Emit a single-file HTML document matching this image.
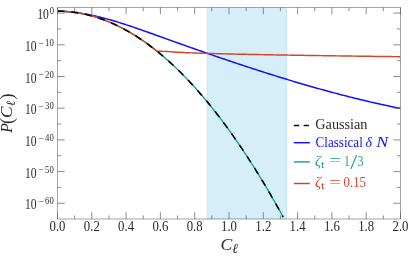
<!DOCTYPE html>
<html><head><meta charset="utf-8"><title>plot</title>
<style>html,body{margin:0;padding:0;background:#fff;}svg{display:block;will-change:transform;}</style>
</head><body>
<svg width="415" height="263" viewBox="0 0 415 263">
<rect width="415" height="263" fill="#fff"/>
<rect x="207.3" y="7.5" width="79.3" height="211.0" fill="#d5eefa" stroke="#bfe3f4" stroke-width="0.8"/>
<path d="M57.50,11.16 L59.22,11.20 L60.95,11.26 L62.67,11.33 L64.39,11.43 L66.12,11.54 L67.84,11.67 L69.57,11.83 L71.29,12.00 L73.01,12.18 L74.74,12.39 L76.46,12.61 L78.18,12.85 L79.91,13.10 L81.63,13.38 L83.35,13.66 L85.08,13.96 L86.80,14.28 L88.53,14.61 L90.25,14.96 L91.97,15.31 L93.70,15.69 L95.42,16.07 L97.14,16.47 L98.87,16.88 L100.59,17.30 L102.31,17.74 L104.04,18.18 L105.76,18.64 L107.48,19.11 L109.21,19.58 L110.93,20.07 L112.66,20.57 L114.38,21.07 L116.10,21.59 L117.83,22.11 L119.55,22.64 L121.27,23.18 L123.00,23.73 L124.72,24.28 L126.44,24.84 L128.17,25.41 L129.89,25.98 L131.62,26.56 L133.34,27.14 L135.06,27.73 L136.79,28.32 L138.51,28.92 L140.23,29.52 L141.96,30.13 L143.68,30.74 L145.40,31.35 L147.13,31.96 L148.85,32.58 L150.58,33.19 L152.30,33.81 L154.02,34.43 L155.75,35.05 L157.47,35.67 L159.19,36.29 L160.92,36.91 L162.64,37.53 L164.36,38.15 L166.09,38.77 L167.81,39.39 L169.54,40.00 L171.26,40.62 L172.98,41.23 L174.71,41.85 L176.43,42.46 L178.15,43.08 L179.88,43.69 L181.60,44.30 L183.32,44.91 L185.05,45.52 L186.77,46.13 L188.49,46.74 L190.22,47.35 L191.94,47.96 L193.67,48.56 L195.39,49.17 L197.11,49.77 L198.84,50.37 L200.56,50.98 L202.28,51.58 L204.01,52.18 L205.73,52.78 L207.45,53.37 L209.18,53.97 L210.90,54.57 L212.63,55.16 L214.35,55.75 L216.07,56.35 L217.80,56.94 L219.52,57.53 L221.24,58.11 L222.97,58.70 L224.69,59.29 L226.41,59.87 L228.14,60.45 L229.86,61.04 L231.59,61.62 L233.31,62.19 L235.03,62.77 L236.76,63.35 L238.48,63.92 L240.20,64.50 L241.93,65.07 L243.65,65.64 L245.37,66.21 L247.10,66.77 L248.82,67.34 L250.55,67.90 L252.27,68.46 L253.99,69.02 L255.72,69.58 L257.44,70.14 L259.16,70.69 L260.89,71.25 L262.61,71.80 L264.33,72.35 L266.06,72.90 L267.78,73.44 L269.51,73.99 L271.23,74.53 L272.95,75.07 L274.68,75.61 L276.40,76.15 L278.12,76.68 L279.85,77.22 L281.57,77.75 L283.29,78.28 L285.02,78.80 L286.74,79.33 L288.46,79.85 L290.19,80.37 L291.91,80.89 L293.64,81.41 L295.36,81.92 L297.08,82.43 L298.81,82.94 L300.53,83.45 L302.25,83.96 L303.98,84.46 L305.70,84.96 L307.42,85.46 L309.15,85.96 L310.87,86.45 L312.60,86.94 L314.32,87.43 L316.04,87.92 L317.77,88.41 L319.49,88.89 L321.21,89.37 L322.94,89.84 L324.66,90.32 L326.38,90.79 L328.11,91.26 L329.83,91.73 L331.56,92.19 L333.28,92.65 L335.00,93.11 L336.73,93.57 L338.45,94.02 L340.17,94.48 L341.90,94.92 L343.62,95.37 L345.34,95.81 L347.07,96.25 L348.79,96.69 L350.52,97.13 L352.24,97.56 L353.96,97.99 L355.69,98.41 L357.41,98.84 L359.13,99.26 L360.86,99.67 L362.58,100.09 L364.30,100.50 L366.03,100.91 L367.75,101.31 L369.47,101.72 L371.20,102.12 L372.92,102.51 L374.65,102.91 L376.37,103.30 L378.09,103.68 L379.82,104.07 L381.54,104.45 L383.26,104.82 L384.99,105.20 L386.71,105.57 L388.43,105.94 L390.16,106.30 L391.88,106.66 L393.61,107.02 L395.33,107.37 L397.05,107.73 L398.78,108.07 L400.50,108.42" fill="none" stroke="#1010ff" stroke-width="1.5" stroke-linejoin="round"/>
<path d="M57.50,11.20 L58.54,11.20 L59.57,11.22 L60.61,11.24 L61.64,11.27 L62.68,11.31 L63.71,11.35 L64.75,11.41 L65.78,11.48 L66.82,11.55 L67.85,11.63 L68.89,11.72 L69.92,11.82 L70.96,11.93 L71.99,12.05 L73.03,12.17 L74.06,12.31 L75.10,12.45 L76.13,12.60 L77.17,12.76 L78.20,12.93 L79.24,13.11 L80.27,13.29 L81.31,13.49 L82.34,13.69 L83.38,13.90 L84.41,14.13 L85.45,14.36 L86.48,14.59 L87.52,14.84 L88.55,15.10 L89.59,15.36 L90.63,15.63 L91.66,15.91 L92.70,16.20 L93.73,16.50 L94.77,16.81 L95.80,17.13 L96.84,17.45 L97.87,17.79 L98.91,18.13 L99.94,18.48 L100.98,18.84 L102.01,19.21 L103.05,19.58 L104.08,19.97 L105.12,20.36 L106.15,20.76 L107.19,21.18 L108.22,21.60 L109.26,22.03 L110.29,22.46 L111.33,22.91 L112.36,23.36 L113.40,23.83 L114.43,24.30 L115.47,24.78 L116.50,25.27 L117.54,25.77 L118.57,26.27 L119.61,26.79 L120.64,27.31 L121.68,27.85 L122.72,28.39 L123.75,28.94 L124.79,29.50 L125.82,30.06 L126.86,30.64 L127.89,31.22 L128.93,31.82 L129.96,32.42 L131.00,33.03 L132.03,33.65 L133.07,34.28 L134.10,34.91 L135.14,35.56 L136.17,36.21 L137.21,36.88 L138.24,37.55 L139.28,38.23 L140.31,38.92 L141.35,39.61 L142.38,40.32 L143.42,41.03 L144.45,41.76 L145.49,42.49 L146.52,43.23 L147.56,43.98 L148.59,44.74 L149.63,45.50 L150.66,46.28 L151.70,47.06 L152.73,47.85 L153.77,48.66 L154.81,49.47 L155.84,50.28 L156.88,51.11 L157.91,51.95 L158.95,52.79 L159.98,53.65 L161.02,54.51 L162.05,55.38 L163.09,56.26 L164.12,57.14 L165.16,58.04 L166.19,58.95 L167.23,59.86 L168.26,60.78 L169.30,61.71 L170.33,62.65 L171.37,63.60 L172.40,64.56 L173.44,65.52 L174.47,66.50 L175.51,67.48 L176.54,68.47 L177.58,69.47 L178.61,70.48 L179.65,71.50 L180.68,72.53 L181.72,73.56 L182.75,74.61 L183.79,75.66 L184.82,76.72 L185.86,77.79 L186.89,78.87 L187.93,79.96 L188.97,81.05 L190.00,82.16 L191.04,83.27 L192.07,84.39 L193.11,85.52 L194.14,86.66 L195.18,87.81 L196.21,88.96 L197.25,90.13 L198.28,91.30 L199.32,92.48 L200.35,93.68 L201.39,94.88 L202.42,96.08 L203.46,97.30 L204.49,98.53 L205.53,99.76 L206.56,101.00 L207.60,102.25 L208.63,103.52 L209.67,104.78 L210.70,106.06 L211.74,107.35 L212.77,108.64 L213.81,109.95 L214.84,111.26 L215.88,112.58 L216.91,113.91 L217.95,115.25 L218.98,116.59 L220.02,117.95 L221.06,119.31 L222.09,120.69 L223.13,122.07 L224.16,123.46 L225.20,124.86 L226.23,126.27 L227.27,127.68 L228.30,129.11 L229.34,130.54 L230.37,131.98 L231.41,133.43 L232.44,134.89 L233.48,136.36 L234.51,137.84 L235.55,139.32 L236.58,140.82 L237.62,142.32 L238.65,143.83 L239.69,145.35 L240.72,146.88 L241.76,148.42 L242.79,149.96 L243.83,151.52 L244.86,153.08 L245.90,154.65 L246.93,156.24 L247.97,157.82 L249.00,159.42 L250.04,161.03 L251.07,162.64 L252.11,164.27 L253.15,165.90 L254.18,167.54 L255.22,169.19 L256.25,170.85 L257.29,172.52 L258.32,174.20 L259.36,175.88 L260.39,177.57 L261.43,179.28 L262.46,180.99 L263.50,182.71 L264.53,184.43 L265.57,186.17 L266.60,187.92 L267.64,189.67 L268.67,191.43 L269.71,193.20 L270.74,194.98 L271.78,196.77 L272.81,198.57 L273.85,200.38 L274.88,202.19 L275.92,204.01 L276.95,205.85 L277.99,207.69 L279.02,209.54 L280.06,211.39 L281.09,213.26 L282.13,215.14 L283.16,217.02" fill="none" stroke="#1fa08c" stroke-width="1.4" stroke-linejoin="round"/>
<path d="M57.50,11.20 L58.75,11.20 L60.01,11.22 L61.26,11.26 L62.52,11.30 L63.77,11.36 L65.03,11.43 L66.28,11.51 L67.54,11.61 L68.79,11.71 L70.04,11.83 L71.30,11.97 L72.55,12.11 L73.81,12.27 L75.06,12.44 L76.32,12.63 L77.57,12.83 L78.83,13.04 L80.08,13.26 L81.33,13.49 L82.59,13.74 L83.84,14.00 L85.10,14.28 L86.35,14.56 L87.61,14.86 L88.86,15.17 L90.12,15.50 L91.37,15.83 L92.62,16.18 L93.88,16.55 L95.13,16.92 L96.39,17.31 L97.64,17.71 L98.90,18.12 L100.15,18.55 L101.41,18.99 L102.66,19.44 L103.91,19.90 L105.17,20.38 L106.42,20.87 L107.68,21.37 L108.93,21.89 L110.19,22.42 L111.44,22.96 L112.69,23.51 L113.95,24.08 L115.20,24.66 L116.46,25.25 L117.71,25.85 L118.97,26.47 L120.22,27.10 L121.48,27.74 L122.73,28.40 L123.98,29.06 L125.24,29.74 L126.49,30.44 L127.75,31.14 L129.00,31.86 L130.26,32.59 L131.51,33.34 L132.77,34.09 L134.02,34.86 L135.27,35.65 L136.53,36.44 L137.78,37.25 L139.04,38.07 L140.29,38.90 L141.55,39.75 L142.80,40.61 L144.06,41.48 L145.31,42.36 L146.56,43.26 L147.82,44.17 L149.07,45.09 L150.33,46.03 L151.58,46.97 L152.84,47.93 L154.09,48.91 L155.35,49.89 L156.60,50.89 L159.06,51.24 L161.53,51.32 L163.99,51.37 L166.45,51.46 L168.92,51.61 L171.38,51.79 L173.85,51.98 L176.31,52.17 L178.77,52.33 L181.24,52.46 L183.70,52.58 L186.16,52.69 L188.63,52.79 L191.09,52.89 L193.55,52.98 L196.02,53.07 L198.48,53.15 L200.95,53.23 L203.41,53.30 L205.87,53.38 L208.34,53.45 L210.80,53.52 L213.26,53.58 L215.73,53.64 L218.19,53.71 L220.65,53.77 L223.12,53.83 L225.58,53.88 L228.05,53.94 L230.51,53.99 L232.97,54.05 L235.44,54.10 L237.90,54.16 L240.36,54.21 L242.83,54.26 L245.29,54.31 L247.75,54.36 L250.22,54.41 L252.68,54.46 L255.15,54.51 L257.61,54.56 L260.07,54.61 L262.54,54.65 L265.00,54.70 L267.46,54.74 L269.93,54.79 L272.39,54.83 L274.85,54.88 L277.32,54.92 L279.78,54.96 L282.25,55.01 L284.71,55.05 L287.17,55.09 L289.64,55.13 L292.10,55.17 L294.56,55.21 L297.03,55.25 L299.49,55.29 L301.95,55.33 L304.42,55.37 L306.88,55.41 L309.35,55.45 L311.81,55.49 L314.27,55.53 L316.74,55.56 L319.20,55.60 L321.66,55.64 L324.13,55.68 L326.59,55.71 L329.05,55.75 L331.52,55.79 L333.98,55.83 L336.45,55.86 L338.91,55.90 L341.37,55.93 L343.84,55.97 L346.30,56.00 L348.76,56.04 L351.23,56.07 L353.69,56.11 L356.15,56.14 L358.62,56.18 L361.08,56.21 L363.55,56.24 L366.01,56.28 L368.47,56.31 L370.94,56.34 L373.40,56.37 L375.86,56.41 L378.33,56.44 L380.79,56.47 L383.25,56.50 L385.72,56.53 L388.18,56.56 L390.65,56.59 L393.11,56.62 L395.57,56.64 L398.04,56.67 L400.50,56.70" fill="none" stroke="#d0452a" stroke-width="1.45" stroke-linejoin="round"/>
<path d="M57.50,11.20 L58.54,11.20 L59.57,11.22 L60.61,11.24 L61.64,11.27 L62.68,11.31 L63.71,11.35 L64.75,11.41 L65.78,11.48 L66.82,11.55 L67.85,11.63 L68.89,11.72 L69.92,11.82 L70.96,11.93 L71.99,12.05 L73.03,12.17 L74.06,12.31 L75.10,12.45 L76.13,12.60 L77.17,12.76 L78.20,12.93 L79.24,13.11 L80.27,13.29 L81.31,13.49 L82.34,13.69 L83.38,13.90 L84.41,14.13 L85.45,14.36 L86.48,14.59 L87.52,14.84 L88.55,15.10 L89.59,15.36 L90.63,15.63 L91.66,15.91 L92.70,16.20 L93.73,16.50 L94.77,16.81 L95.80,17.13 L96.84,17.45 L97.87,17.79 L98.91,18.13 L99.94,18.48 L100.98,18.84 L102.01,19.21 L103.05,19.58 L104.08,19.97 L105.12,20.36 L106.15,20.76 L107.19,21.18 L108.22,21.60 L109.26,22.03 L110.29,22.46 L111.33,22.91 L112.36,23.36 L113.40,23.83 L114.43,24.30 L115.47,24.78 L116.50,25.27 L117.54,25.77 L118.57,26.27 L119.61,26.79 L120.64,27.31 L121.68,27.85 L122.72,28.39 L123.75,28.94 L124.79,29.50 L125.82,30.06 L126.86,30.64 L127.89,31.22 L128.93,31.82 L129.96,32.42 L131.00,33.03 L132.03,33.65 L133.07,34.28 L134.10,34.91 L135.14,35.56 L136.17,36.21 L137.21,36.88 L138.24,37.55 L139.28,38.23 L140.31,38.92 L141.35,39.61 L142.38,40.32 L143.42,41.03 L144.45,41.76 L145.49,42.49 L146.52,43.23 L147.56,43.98 L148.59,44.74 L149.63,45.50 L150.66,46.28 L151.70,47.06 L152.73,47.85 L153.77,48.66 L154.81,49.47 L155.84,50.28 L156.88,51.11 L157.91,51.95 L158.95,52.79 L159.98,53.65 L161.02,54.51 L162.05,55.38 L163.09,56.26 L164.12,57.14 L165.16,58.04 L166.19,58.95 L167.23,59.86 L168.26,60.78 L169.30,61.71 L170.33,62.65 L171.37,63.60 L172.40,64.56 L173.44,65.52 L174.47,66.50 L175.51,67.48 L176.54,68.47 L177.58,69.47 L178.61,70.48 L179.65,71.50 L180.68,72.53 L181.72,73.56 L182.75,74.61 L183.79,75.66 L184.82,76.72 L185.86,77.79 L186.89,78.87 L187.93,79.96 L188.97,81.05 L190.00,82.16 L191.04,83.27 L192.07,84.39 L193.11,85.52 L194.14,86.66 L195.18,87.81 L196.21,88.96 L197.25,90.13 L198.28,91.30 L199.32,92.48 L200.35,93.68 L201.39,94.88 L202.42,96.08 L203.46,97.30 L204.49,98.53 L205.53,99.76 L206.56,101.00 L207.60,102.25 L208.63,103.52 L209.67,104.78 L210.70,106.06 L211.74,107.35 L212.77,108.64 L213.81,109.95 L214.84,111.26 L215.88,112.58 L216.91,113.91 L217.95,115.25 L218.98,116.59 L220.02,117.95 L221.06,119.31 L222.09,120.69 L223.13,122.07 L224.16,123.46 L225.20,124.86 L226.23,126.27 L227.27,127.68 L228.30,129.11 L229.34,130.54 L230.37,131.98 L231.41,133.43 L232.44,134.89 L233.48,136.36 L234.51,137.84 L235.55,139.32 L236.58,140.82 L237.62,142.32 L238.65,143.83 L239.69,145.35 L240.72,146.88 L241.76,148.42 L242.79,149.96 L243.83,151.52 L244.86,153.08 L245.90,154.65 L246.93,156.24 L247.97,157.82 L249.00,159.42 L250.04,161.03 L251.07,162.64 L252.11,164.27 L253.15,165.90 L254.18,167.54 L255.22,169.19 L256.25,170.85 L257.29,172.52 L258.32,174.20 L259.36,175.88 L260.39,177.57 L261.43,179.28 L262.46,180.99 L263.50,182.71 L264.53,184.43 L265.57,186.17 L266.60,187.92 L267.64,189.67 L268.67,191.43 L269.71,193.20 L270.74,194.98 L271.78,196.77 L272.81,198.57 L273.85,200.38 L274.88,202.19 L275.92,204.01 L276.95,205.85 L277.99,207.69 L279.02,209.54 L280.06,211.39 L281.09,213.26 L282.13,215.14 L283.16,217.02" fill="none" stroke="#000" stroke-width="1.55" stroke-dasharray="6.9 6.9" stroke-linejoin="round"/>
<path d="M57.1,7.5 H400.9 M57.1,219.0 H400.9 M57.5,7.5 V219.0 M400.5,7.5 V219.0" fill="none" stroke="#949494" stroke-width="0.85"/>
<path d="M57.50,219.0 v-6.8 M57.50,7.5 v6.8 M74.65,219.0 v-3.6 M74.65,7.5 v3.6 M91.80,219.0 v-6.8 M91.80,7.5 v6.8 M108.95,219.0 v-3.6 M108.95,7.5 v3.6 M126.10,219.0 v-6.8 M126.10,7.5 v6.8 M143.25,219.0 v-3.6 M143.25,7.5 v3.6 M160.40,219.0 v-6.8 M160.40,7.5 v6.8 M177.55,219.0 v-3.6 M177.55,7.5 v3.6 M194.70,219.0 v-6.8 M194.70,7.5 v6.8 M211.85,219.0 v-3.6 M211.85,7.5 v3.6 M229.00,219.0 v-6.8 M229.00,7.5 v6.8 M246.15,219.0 v-3.6 M246.15,7.5 v3.6 M263.30,219.0 v-6.8 M263.30,7.5 v6.8 M280.45,219.0 v-3.6 M280.45,7.5 v3.6 M297.60,219.0 v-6.8 M297.60,7.5 v6.8 M314.75,219.0 v-3.6 M314.75,7.5 v3.6 M331.90,219.0 v-6.8 M331.90,7.5 v6.8 M349.05,219.0 v-3.6 M349.05,7.5 v3.6 M366.20,219.0 v-6.8 M366.20,7.5 v6.8 M383.35,219.0 v-3.6 M383.35,7.5 v3.6 M400.50,219.0 v-6.8 M400.50,7.5 v6.8 M57.5,13.10 h7.2 M400.5,13.10 h-7.2 M57.5,28.95 h3.6 M400.5,28.95 h-3.6 M57.5,44.80 h7.2 M400.5,44.80 h-7.2 M57.5,60.65 h3.6 M400.5,60.65 h-3.6 M57.5,76.50 h7.2 M400.5,76.50 h-7.2 M57.5,92.35 h3.6 M400.5,92.35 h-3.6 M57.5,108.20 h7.2 M400.5,108.20 h-7.2 M57.5,124.05 h3.6 M400.5,124.05 h-3.6 M57.5,139.90 h7.2 M400.5,139.90 h-7.2 M57.5,155.75 h3.6 M400.5,155.75 h-3.6 M57.5,171.60 h7.2 M400.5,171.60 h-7.2 M57.5,187.45 h3.6 M400.5,187.45 h-3.6 M57.5,203.30 h7.2 M400.5,203.30 h-7.2" fill="none" stroke="#666" stroke-width="0.75"/>
<g font-family="Liberation Serif, serif" font-size="14" fill="#2a2a2a" text-anchor="middle">
<text x="57.50" y="231" textLength="16" lengthAdjust="spacingAndGlyphs">0.0</text>
<text x="91.80" y="231" textLength="16" lengthAdjust="spacingAndGlyphs">0.2</text>
<text x="126.10" y="231" textLength="16" lengthAdjust="spacingAndGlyphs">0.4</text>
<text x="160.40" y="231" textLength="16" lengthAdjust="spacingAndGlyphs">0.6</text>
<text x="194.70" y="231" textLength="16" lengthAdjust="spacingAndGlyphs">0.8</text>
<text x="229.00" y="231" textLength="16" lengthAdjust="spacingAndGlyphs">1.0</text>
<text x="263.30" y="231" textLength="16" lengthAdjust="spacingAndGlyphs">1.2</text>
<text x="297.60" y="231" textLength="16" lengthAdjust="spacingAndGlyphs">1.4</text>
<text x="331.90" y="231" textLength="16" lengthAdjust="spacingAndGlyphs">1.6</text>
<text x="366.20" y="231" textLength="16" lengthAdjust="spacingAndGlyphs">1.8</text>
<text x="400.50" y="231" textLength="16" lengthAdjust="spacingAndGlyphs">2.0</text>
</g>
<g font-family="Liberation Serif, serif" fill="#2a2a2a">
<text x="37.2" y="19.20" font-size="13.7" textLength="11.6" lengthAdjust="spacingAndGlyphs">10</text>
<text x="49.8" y="14.10" font-size="9.4" textLength="4.3" lengthAdjust="spacingAndGlyphs">0</text>
<text x="25.0" y="50.90" font-size="13.7" textLength="11.6" lengthAdjust="spacingAndGlyphs">10</text>
<text x="38.2" y="46.60" font-size="9.4" textLength="5.6" lengthAdjust="spacingAndGlyphs">−</text>
<text x="45.1" y="45.80" font-size="9.4" textLength="8.7" lengthAdjust="spacingAndGlyphs">10</text>
<text x="25.0" y="82.60" font-size="13.7" textLength="11.6" lengthAdjust="spacingAndGlyphs">10</text>
<text x="38.2" y="78.30" font-size="9.4" textLength="5.6" lengthAdjust="spacingAndGlyphs">−</text>
<text x="45.1" y="77.50" font-size="9.4" textLength="8.7" lengthAdjust="spacingAndGlyphs">20</text>
<text x="25.0" y="114.30" font-size="13.7" textLength="11.6" lengthAdjust="spacingAndGlyphs">10</text>
<text x="38.2" y="110.00" font-size="9.4" textLength="5.6" lengthAdjust="spacingAndGlyphs">−</text>
<text x="45.1" y="109.20" font-size="9.4" textLength="8.7" lengthAdjust="spacingAndGlyphs">30</text>
<text x="25.0" y="146.00" font-size="13.7" textLength="11.6" lengthAdjust="spacingAndGlyphs">10</text>
<text x="38.2" y="141.70" font-size="9.4" textLength="5.6" lengthAdjust="spacingAndGlyphs">−</text>
<text x="45.1" y="140.90" font-size="9.4" textLength="8.7" lengthAdjust="spacingAndGlyphs">40</text>
<text x="25.0" y="177.70" font-size="13.7" textLength="11.6" lengthAdjust="spacingAndGlyphs">10</text>
<text x="38.2" y="173.40" font-size="9.4" textLength="5.6" lengthAdjust="spacingAndGlyphs">−</text>
<text x="45.1" y="172.60" font-size="9.4" textLength="8.7" lengthAdjust="spacingAndGlyphs">50</text>
<text x="25.0" y="209.40" font-size="13.7" textLength="11.6" lengthAdjust="spacingAndGlyphs">10</text>
<text x="38.2" y="205.10" font-size="9.4" textLength="5.6" lengthAdjust="spacingAndGlyphs">−</text>
<text x="45.1" y="204.30" font-size="9.4" textLength="8.7" lengthAdjust="spacingAndGlyphs">60</text>
</g>
<g font-family="Liberation Serif, serif" font-style="italic" fill="#2a2a2a">
<text x="220.4" y="249.6" font-size="17.3" textLength="11.8" lengthAdjust="spacingAndGlyphs">C</text>
<text x="232.3" y="252.5" font-size="13.6">ℓ</text>
<g transform="translate(12,132.7) rotate(-90)">
<text x="0" y="0" font-size="15.8">P</text>
<text x="8.6" y="1.1" font-size="18" font-style="normal">(</text>
<text x="14.7" y="0" font-size="15.8" textLength="11.6" lengthAdjust="spacingAndGlyphs">C</text>
<text x="26.6" y="3" font-size="12.5">ℓ</text>
<text x="33.2" y="1.1" font-size="18" font-style="normal">)</text>
</g></g>
<g font-family="Liberation Serif, serif" font-size="14.3">
<path d="M293.8,125.4 h16" stroke="#000" stroke-width="1.45" stroke-dasharray="5.3 4.5"/>
<text x="315.3" y="129" fill="#2a2a2a" textLength="52.2" lengthAdjust="spacingAndGlyphs">Gaussian</text>
<path d="M293.8,142.7 h16" stroke="#1010ff" stroke-width="1.45"/>
<text x="315.5" y="147" fill="#1010ff" textLength="47.3" lengthAdjust="spacingAndGlyphs">Classical</text>
<text x="365.6" y="147" fill="#1010ff" font-style="italic" textLength="6.4" lengthAdjust="spacingAndGlyphs">δ</text>
<text x="376.3" y="147" fill="#1010ff" font-style="italic" textLength="12" lengthAdjust="spacingAndGlyphs">N</text>
<path d="M293.8,161.9 h16" stroke="#1fa08c" stroke-width="1.45"/>
<g fill="#1fa08c">
<text x="315" y="165.6" font-style="italic" font-size="15">ζ</text>
<text x="320.9" y="167.8" font-size="10.4" textLength="3.6" lengthAdjust="spacingAndGlyphs">t</text>
<text x="329.3" y="165.4" textLength="11.8" lengthAdjust="spacingAndGlyphs">=</text>
<text x="344" y="165.6" textLength="5.8" lengthAdjust="spacingAndGlyphs">1</text>
<text x="350.2" y="168.6" font-size="21" textLength="7" lengthAdjust="spacingAndGlyphs">/</text>
<text x="357.6" y="165.6" textLength="6" lengthAdjust="spacingAndGlyphs">3</text>
</g>
<path d="M293.8,183.5 h16" stroke="#d0452a" stroke-width="1.45"/>
<g fill="#d0452a">
<text x="315" y="187.1" font-style="italic" font-size="15">ζ</text>
<text x="320.9" y="189.3" font-size="10.4" textLength="3.6" lengthAdjust="spacingAndGlyphs">t</text>
<text x="329.3" y="186.9" textLength="11.8" lengthAdjust="spacingAndGlyphs">=</text>
<text x="343.6" y="187.1" textLength="22.3" lengthAdjust="spacingAndGlyphs">0.15</text>
</g>
</g>
</svg>
</body></html>
